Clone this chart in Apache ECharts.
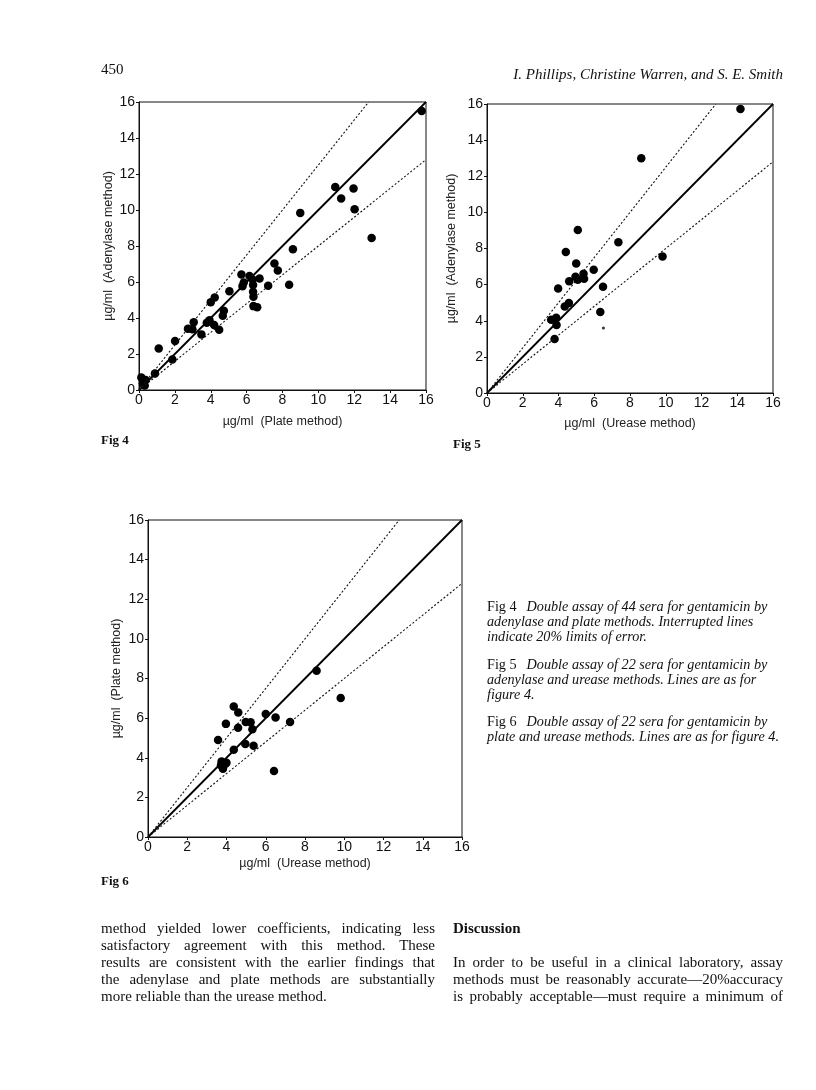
<!DOCTYPE html>
<html>
<head>
<meta charset="utf-8">
<script src="https://cdn.jsdelivr.net/npm/echarts@6/dist/echarts.min.js"></script>
<style>
  html, body { margin: 0; padding: 0; background: #fff; }
  #page { position: relative; width: 816px; height: 1090px; overflow: hidden; font-family: "Liberation Serif", "DejaVu Serif", serif; color: #111; }
  #chart { position: absolute; left: 0; top: 0; width: 816px; height: 1090px; }
  .t { position: absolute; white-space: nowrap; }
  .fig { font-weight: bold; font-size: 13px; }
  .cap { position: absolute; left: 487px; font-size: 14.2px; line-height: 14.8px; font-style: italic; white-space: nowrap; }
  .cap b { font-style: normal; font-weight: normal; margin-right: 10px; font-size: 14.2px; }
  .col { position: absolute; font-size: 15px; line-height: 17px; }
  .col div { white-space: nowrap; text-align: justify; text-align-last: justify; }
  .col div.last { text-align-last: left; }
</style>
</head>
<body>
<div id="page">
  <div id="chart"></div>
  <div class="t" style="left:101px;top:61px;font-size:15px;">450</div>
  <div class="t" style="right:33px;top:66px;font-size:15px;font-style:italic;">I. Phillips, Christine Warren, and S. E. Smith</div>
  <div class="t fig" style="left:101px;top:432px;">Fig 4</div>
  <div class="t fig" style="left:453px;top:436px;">Fig 5</div>
  <div class="t fig" style="left:101px;top:873px;">Fig 6</div>
  <div class="cap" style="top:599px;"><b>Fig 4</b>Double assay of 44 sera for gentamicin by<br>adenylase and plate methods. Interrupted lines<br>indicate 20% limits of error.</div>
  <div class="cap" style="top:657px;"><b>Fig 5</b>Double assay of 22 sera for gentamicin by<br>adenylase and urease  methods. Lines are as for<br>figure 4.</div>
  <div class="cap" style="top:714px;"><b>Fig 6</b>Double assay of 22 sera for gentamicin by<br>plate and urease methods. Lines are as for figure 4.</div>
  <div class="col" style="left:101px;top:920px;width:334px;">
    <div>method yielded lower coefficients, indicating less</div>
    <div>satisfactory agreement with this method. These</div>
    <div>results are consistent with the earlier findings that</div>
    <div>the adenylase and plate methods are substantially</div>
    <div class="last">more reliable than the urease method.</div>
  </div>
  <div class="t" style="left:453px;top:920px;font-size:15px;font-weight:bold;">Discussion</div>
  <div class="col" style="left:453px;top:954px;width:330px;">
    <div>In order to be useful in a clinical laboratory, assay</div>
    <div>methods must be reasonably accurate—20%accuracy</div>
    <div>is probably acceptable—must require a minimum of</div>
  </div>
</div>
<script>
// axis ticks (ug/ml)
var tickMin = 0, tickMax = 16, tickStep = 2;
// interrupted lines: 20% limits of error
var limitFactors = [1.25, 0.8];

// Fig 4: [plate, adenylase]
var fig4Points = [
  [15.76, 15.5], [10.94, 11.28], [11.27, 10.64], [11.96, 11.19], [12.02, 10.04],
  [12.97, 8.45], [8.99, 9.84], [8.58, 7.82], [8.37, 5.85], [7.55, 7.03],
  [7.74, 6.64], [7.2, 5.79], [6.72, 6.2], [5.71, 6.42], [5.84, 5.97],
  [5.77, 5.77], [6.16, 6.33], [6.33, 6.14], [6.36, 5.83], [6.36, 5.46],
  [6.38, 5.18], [6.38, 4.66], [6.59, 4.6], [5.04, 5.49], [4.22, 5.14],
  [4.0, 4.88], [4.73, 4.4], [4.67, 4.12], [4.47, 3.35], [4.19, 3.61],
  [3.93, 3.88], [3.78, 3.74], [3.48, 3.09], [3.05, 3.77], [2.98, 3.37],
  [2.73, 3.4], [2.01, 2.72], [1.1, 2.31], [1.86, 1.7], [0.89, 0.92],
  [0.13, 0.7], [0.22, 0.37], [0.37, 0.55], [0.32, 0.25]
];
// Fig 5: [urease, adenylase]
var fig5Points = [
  [14.18, 15.72], [8.63, 13.0], [5.08, 9.03], [7.35, 8.35], [4.41, 7.8],
  [4.99, 7.17], [9.82, 7.56], [5.97, 6.82], [5.4, 6.6], [5.43, 6.32],
  [4.95, 6.43], [5.08, 6.27], [4.6, 6.19], [3.98, 5.79], [6.49, 5.88],
  [4.58, 4.98], [4.35, 4.79], [6.34, 4.48], [3.59, 4.06], [3.87, 4.17],
  [3.89, 3.76], [3.78, 2.99]
];
var fig5Speck = [[6.51, 3.6]];
// Fig 6: [urease, plate]
var fig6Points = [
  [8.59, 8.39], [9.82, 7.01], [4.37, 6.59], [4.6, 6.28], [6.0, 6.21],
  [6.5, 6.03], [3.97, 5.71], [4.98, 5.81], [5.23, 5.79], [4.59, 5.51],
  [5.32, 5.44], [7.24, 5.81], [3.57, 4.9], [4.96, 4.7], [5.38, 4.6],
  [4.37, 4.4], [3.75, 3.81], [3.94, 3.69], [3.82, 3.45], [6.42, 3.33],
  [3.72, 3.62], [4.0, 3.75]
];

var panels = [
  { grid: { left: 139, top: 102, width: 287, height: 288 }, xName: 'µg/ml  (Plate method)', yName: 'µg/ml  (Adenylase method)', xGap: 25, yGap: 23, pts: fig4Points },
  { grid: { left: 487, top: 104, width: 286, height: 289 }, xName: 'µg/ml  (Urease method)', yName: 'µg/ml  (Adenylase method)', xGap: 24, yGap: 29, pts: fig5Points },
  { grid: { left: 148, top: 520, width: 314, height: 317 }, xName: 'µg/ml  (Urease method)', yName: 'µg/ml  (Plate method)', xGap: 20, yGap: 25, pts: fig6Points }
];

var chart = echarts.init(document.getElementById('chart'));
var grids = [], xAxes = [], yAxes = [], series = [];
var axisFont = '"Liberation Sans", Arial, sans-serif';

function axis(i, name, gap, isY) {
  return {
    type: 'value', gridIndex: i, min: tickMin, max: tickMax, interval: tickStep,
    name: name, nameLocation: 'middle', nameGap: gap,
    nameTextStyle: { fontFamily: axisFont, fontSize: 12.5, color: '#222' },
    axisLine: { onZero: false, lineStyle: { color: '#111', width: 1 } },
    axisTick: { show: true, inside: false, length: 3, lineStyle: { color: '#111' } },
    axisLabel: { fontFamily: axisFont, fontSize: 14, color: '#111', margin: isY ? 4 : 3 },
    splitLine: { show: false }
  };
}

panels.forEach(function (p, i) {
  grids.push(Object.assign({ show: true, borderColor: '#111', borderWidth: 1, backgroundColor: 'transparent' }, p.grid));
  xAxes.push(axis(i, p.xName, p.xGap, false));
  yAxes.push(axis(i, p.yName, p.yGap, true));
  series.push({
    type: 'line', xAxisIndex: i, yAxisIndex: i, showSymbol: false, silent: true,
    data: [[tickMin, tickMin], [tickMax, tickMax]],
    lineStyle: { color: '#000', width: 1.8 }
  });
  limitFactors.forEach(function (f) {
    var end = f > 1 ? [tickMax / f, tickMax] : [tickMax, tickMax * f];
    series.push({
      type: 'line', xAxisIndex: i, yAxisIndex: i, showSymbol: false, silent: true,
      data: [[0, 0], end],
      lineStyle: { color: '#111', width: 1.1, type: [2, 2] }
    });
  });
  series.push({
    type: 'scatter', xAxisIndex: i, yAxisIndex: i, data: p.pts,
    symbolSize: 8.5, itemStyle: { color: '#000', opacity: 1 }
  });
  if (i === 1) {
    series.push({
      type: 'scatter', xAxisIndex: i, yAxisIndex: i, data: fig5Speck,
      symbolSize: 3, itemStyle: { color: '#000' }
    });
  }
});

chart.setOption({
  animation: false,
  backgroundColor: 'transparent',
  grid: grids,
  xAxis: xAxes,
  yAxis: yAxes,
  series: series
});
</script>
</body>
</html>
